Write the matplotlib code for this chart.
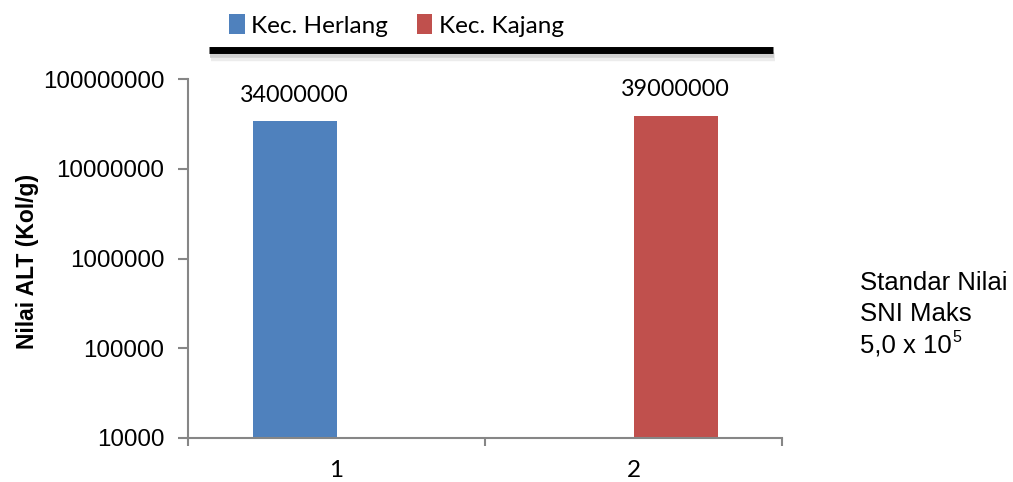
import matplotlib
matplotlib.use("Agg")
import matplotlib.pyplot as plt
import numpy as np

categories = ["1", "2"]
series_names = ["Kec. Herlang", "Kec. Kajang"]
values_herlang = [34000000, 0]
values_kajang = [0, 39000000]
colors = ["#4F81BD", "#C0504D"]
ytick_vals = [10000, 100000, 1000000, 10000000, 100000000]
note_lines = ["Standar Nilai", "SNI Maks", "5,0 x 10"]
note_sup = "5"

fig = plt.figure(figsize=(10.13, 4.82), dpi=100)
ax = fig.add_axes([188/1013, 1 - 438/482, (782-188)/1013, (438-79)/482])

x = np.arange(1, len(categories) + 1)
w = 84 / 297
series = [values_herlang, values_kajang]
for i, (vals, c, name) in enumerate(zip(series, colors, series_names)):
    pos = x + (i - 0.5) * w
    v = np.array(vals, dtype=float)
    mask = v > 0
    ax.bar(pos[mask], v[mask], width=w, color=c, label=name, zorder=2)
    for p, val in zip(pos[mask], v[mask]):
        ax.annotate(f"{int(val)}", (p, val), xytext=(0, 11), textcoords="offset points",
                    ha="center", va="bottom", fontsize=16.8, family="Lato")

ax.set_yscale("log")
ax.set_ylim(1e4, 1e8)
ax.set_xlim(0.5, len(categories) + 0.5)
ax.set_yticks(ytick_vals)
ax.set_yticklabels([str(v) for v in ytick_vals], fontsize=17.4, family="Liberation Sans")
ax.yaxis.set_minor_locator(matplotlib.ticker.NullLocator())
ax.set_xticks(np.arange(0.5, len(categories) + 1, 1.0))
ax.set_xticklabels([])
ax.set_xticks(x, minor=True)
ax.set_xticklabels(categories, minor=True, fontsize=17.5, family="Lato")
ax.tick_params(axis="x", which="minor", length=0, pad=16)
ax.tick_params(axis="x", which="major", length=6, width=1.5, color="#868686", direction="out")
ax.tick_params(axis="y", which="major", length=7, width=1.5, color="#868686", direction="out", pad=10)

for s in ["top", "right"]:
    ax.spines[s].set_visible(False)
for s in ["left", "bottom"]:
    ax.spines[s].set_color("#868686")
    ax.spines[s].set_linewidth(1.5)

ax.set_ylabel("Nilai ALT (Kol/g)", fontsize=16.5, fontweight="bold", family="Liberation Sans")
ax.yaxis.set_label_coords((39 - 188) / 594, (438 - 261) / 359)

leg = fig.legend(loc="center", bbox_to_anchor=(396.5/1013, 1 - 25.5/482), ncol=2, frameon=False,
                 prop={"family": "Lato", "size": 17.5}, handlelength=0.62, handleheight=0.9,
                 handletextpad=0.25, columnspacing=1.23, borderpad=0)

# black bar under legend with soft shadow
fig.add_artist(plt.Line2D([211/1013, 775/1013], [1 - 57/482, 1 - 57/482], color="#ececec", lw=6, solid_capstyle="butt"))
fig.add_artist(plt.Line2D([210/1013, 774/1013], [1 - 54.5/482, 1 - 54.5/482], color="#cfcfcf", lw=4, solid_capstyle="butt"))
fig.add_artist(plt.Line2D([209/1013, 773/1013], [1 - 50/482, 1 - 50/482], color="black", lw=5, solid_capstyle="butt"))

ys = [283, 314, 345]
for line, yy in zip(note_lines, ys):
    t = fig.text(860/1013, 1 - yy/482, line, fontsize=18.5, family="Liberation Sans", va="center", ha="left")
fig.canvas.draw()
bb = t.get_window_extent()
fig.text(bb.x1 / 1013 + 0.001, 1 - 337/482, note_sup, fontsize=11.5, family="Liberation Sans", va="center", ha="left")

fig.savefig("out.png", dpi=100)
